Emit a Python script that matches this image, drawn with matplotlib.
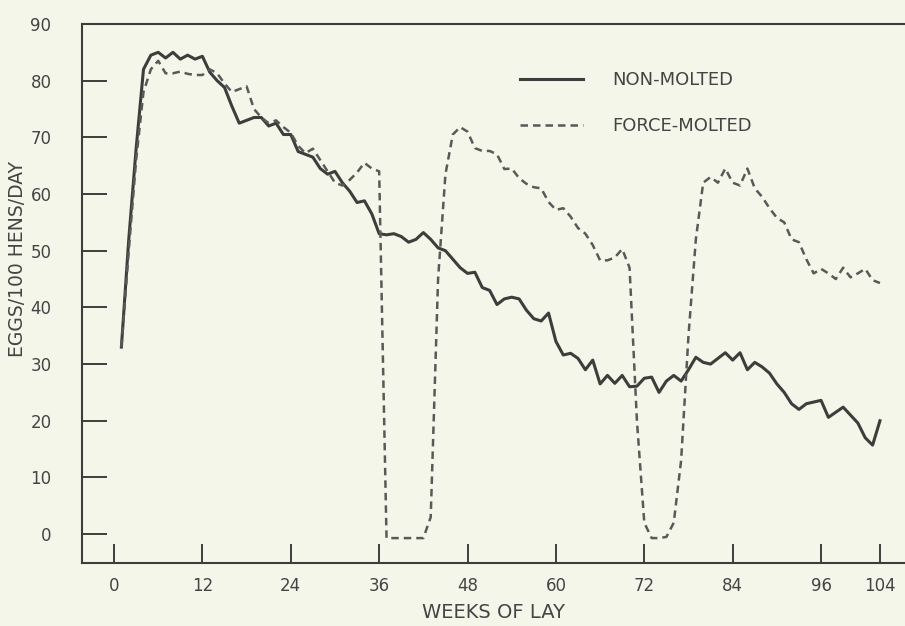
import matplotlib
matplotlib.use("Agg")
import matplotlib.pyplot as plt

# haftalar (1..104)
weeks = list(range(1, 105))

non_molted = [
    33, 52, 68, 82, 84.5, 85, 84, 85, 83.8, 84.5,
    83.8, 84.3, 81.5, 80, 78.8, 75.5, 72.5, 73, 73.5, 73.5,
    72, 72.5, 70.5, 70.5, 67.5, 67, 66.5, 64.5, 63.5, 64,
    62, 60.5, 58.5, 58.8, 56.5, 53, 52.8, 53, 52.5, 51.5,
    52, 53.2, 52, 50.5, 50, 48.5, 47, 46, 46.2, 43.5,
    43, 40.5, 41.5, 41.8, 41.5, 39.5, 38, 37.6, 39, 34,
    31.6, 31.9, 31, 29, 30.7, 26.5, 28, 26.6, 28, 26,
    26.1, 27.5, 27.7, 25, 27, 28, 27, 29, 31.2, 30.3,
    30, 31, 32, 30.7, 32, 29, 30.3, 29.5, 28.4, 26.5,
    25, 23, 22, 23, 23.3, 23.6, 20.6, 21.5, 22.4, 21,
    19.6, 17, 15.7, 20,
]

force_molted = [
    33, 50, 66, 78, 82, 83.5, 81.3, 81.3, 81.6, 81.2,
    81, 81, 82, 81.3, 79.5, 78, 78.5, 79, 75, 73.5,
    72.5, 73, 71.8, 70.8, 68.5, 67.2, 68, 66, 64, 62,
    61.5, 62.5, 63.8, 65.5, 64.5, 64, -0.7, -0.7, -0.7, -0.7,
    -0.7, -0.7, 3, 45, 63.5, 70.5, 71.8, 71, 68.1, 67.6,
    67.6, 67, 64.4, 64.5, 62.8, 61.8, 61.2, 61, 58.6, 57.2,
    57.5, 56, 54, 53, 51, 48.3, 48.3, 48.8, 50.3, 47,
    20, 2, -0.7, -0.7, -0.5, 2, 13, 35, 52, 62,
    63, 62, 64.5, 62, 61.5, 64.5, 61, 59.5, 57.5, 55.8,
    55, 52, 51.5, 48.5, 46, 46.8, 46, 45, 47, 45.3,
    46, 46.8, 44.8, 44.3,
]

x_ticks = [0, 12, 24, 36, 48, 60, 72, 84, 96, 104]
y_ticks = [0, 10, 20, 30, 40, 50, 60, 70, 80, 90]

bg = "#f5f6ea"
ink = "#3c3e3c"

fig = plt.figure(figsize=(9.05, 6.26), dpi=100, facecolor=bg)
ax = fig.add_axes([0.0906, 0.1006, 0.9094, 0.8611], facecolor=bg)

ax.plot(weeks, non_molted, color=ink, lw=2.2, label="NON-MOLTED")
ax.plot(weeks, force_molted, color="#585a58", lw=1.8, dashes=(3, 2),
        label="FORCE-MOLTED")

ax.set_xlim(-4.35, 107.4)
ax.set_ylim(-5.1, 90)
ax.set_xticks(x_ticks)
ax.set_yticks(y_ticks)

for side in ["left", "bottom", "top"]:
    ax.spines[side].set_color(ink)
    ax.spines[side].set_linewidth(1.5)
ax.spines["right"].set_visible(False)

ax.tick_params(axis="y", direction="in", length=18, width=1.4, color=ink,
               labelsize=12, labelcolor="#444444", pad=22)
ax.tick_params(axis="x", direction="in", length=14, width=1.4, color=ink,
               labelsize=12, labelcolor="#444444", pad=10)

ax.set_xlabel("WEEKS OF LAY", fontsize=14, color="#444444", labelpad=6)
fig.text(18 / 905, 1 - 259 / 626, "EGGS/100 HENS/DAY", rotation=90,
         fontsize=13.5, color="#444444", ha="center", va="center")

ax.legend(loc="upper left", bbox_to_anchor=(520 / 905, 1 - 71 / 626),
          bbox_transform=fig.transFigure, frameon=False, fontsize=13,
          handlelength=3.5, handletextpad=1.6, labelspacing=1.55,
          borderpad=0, borderaxespad=0, labelcolor="#444444")

fig.savefig("out.png", dpi=100, facecolor=bg)
